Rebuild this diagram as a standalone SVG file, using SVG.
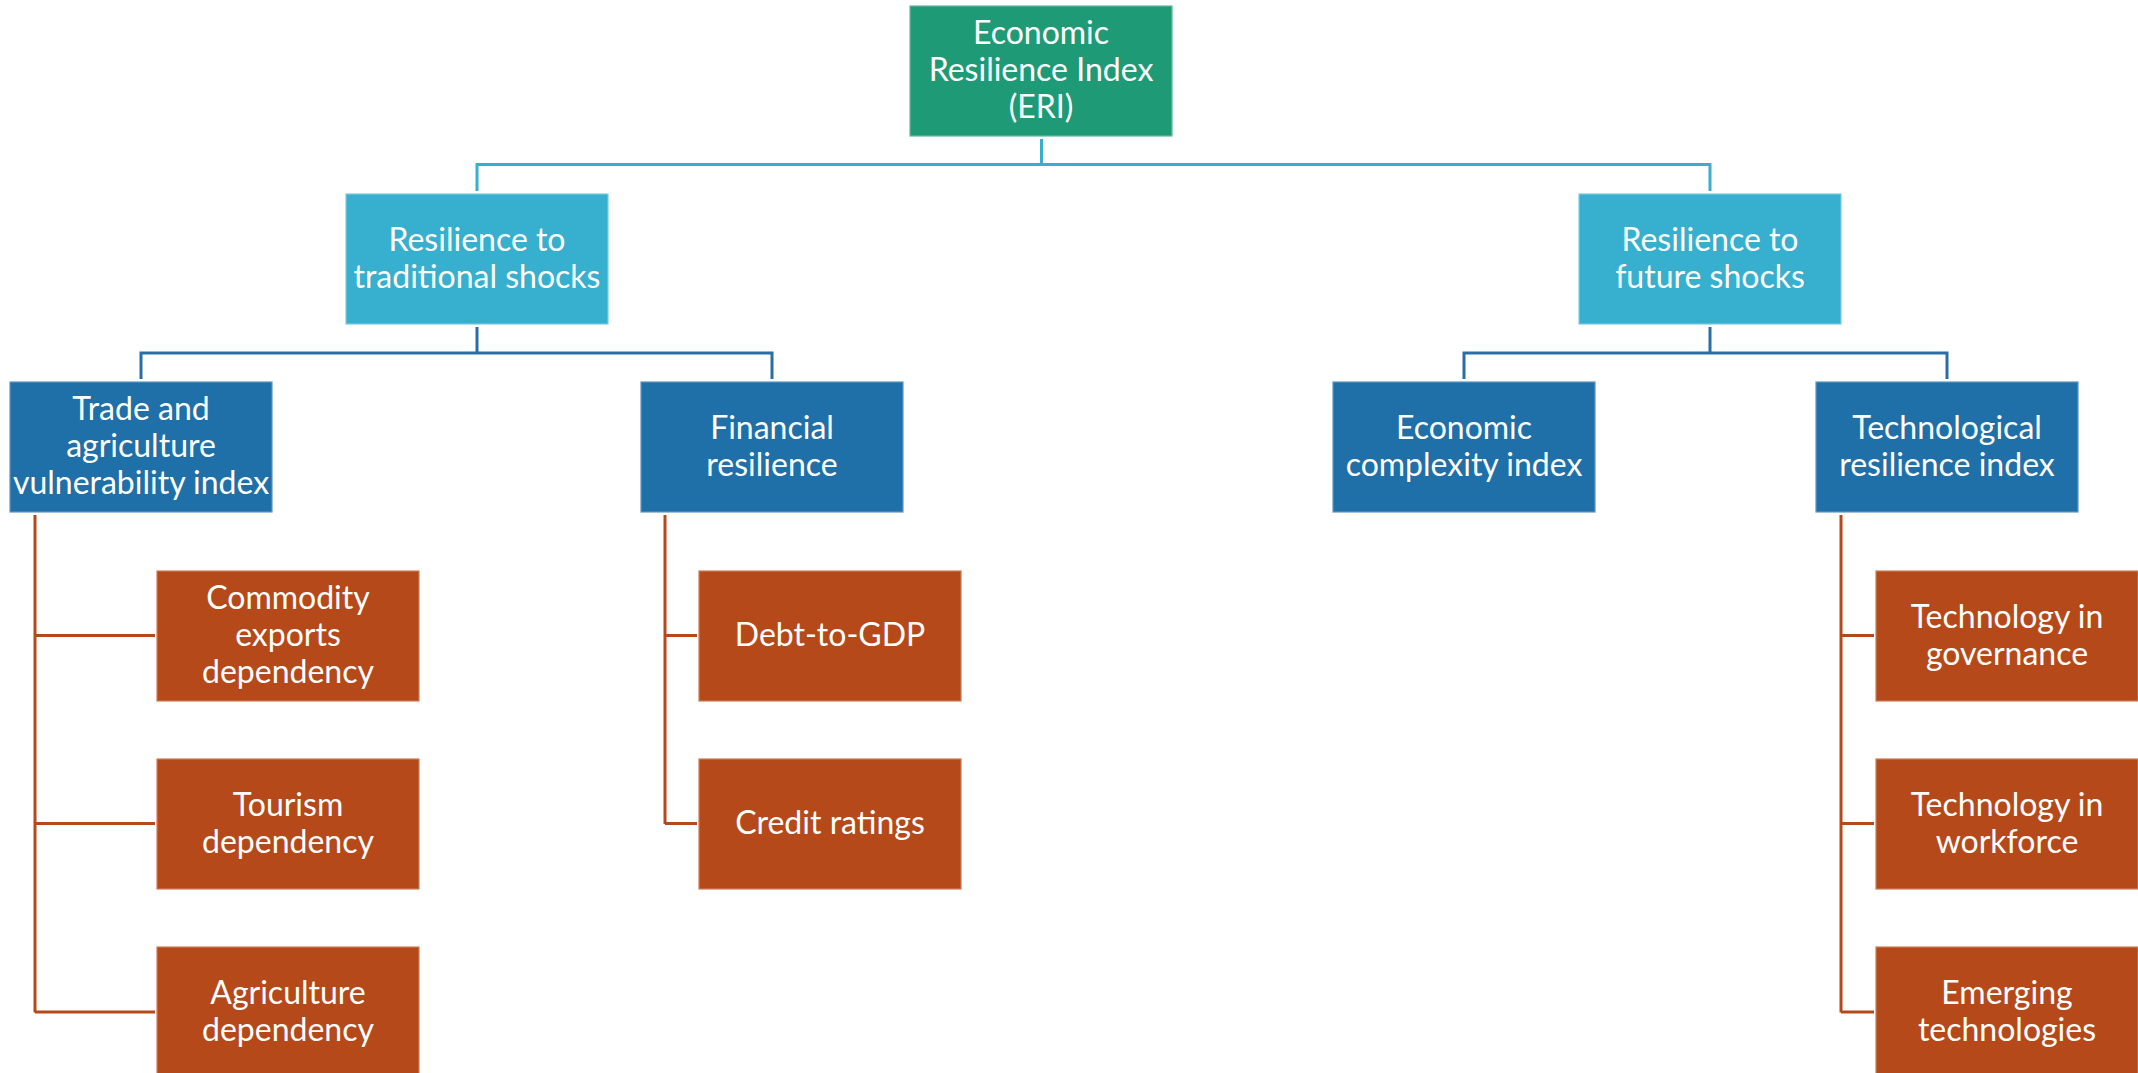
<svg xmlns="http://www.w3.org/2000/svg" width="2138" height="1073" viewBox="0 0 2138 1073">
<style>
  .box { stroke-width: 1.2; }
  .g0 { fill: #1E9B76; stroke: #5FB99E; }
  .g1 { fill: #37AFCF; stroke: #7CCBE0; }
  .g2 { fill: #1F6FA9; stroke: #5E97C2; }
  .g3 { fill: #B5491A; stroke: #CC7D5A; }
  .t { font-family: Lato, "Open Sans", "Liberation Sans", sans-serif; font-size: 32px; fill: #FFFFFF; text-anchor: middle; }
  .c1 { stroke: #39AFD0; stroke-width: 3; fill: none; }
  .c2 { stroke: #2A6EA6; stroke-width: 3; fill: none; }
  .c3 { stroke: #B5491A; stroke-width: 3; fill: none; }
</style>
<rect width="2138" height="1073" fill="#FFFFFF"/>
<g id="connectors">
  <path class="c1" d="M1041.5,139 V164.5 M477,191 V164.5 H1710 V191"/>
  <path class="c2" d="M477,327 V353 M141,379 V353 H772 V379"/>
  <path class="c2" d="M1710,327 V353 M1464,379 V353 H1947 V379"/>
  <path class="c3" d="M35,515 V1012.5 M35,635.5 H155 M35,823.5 H155 M35,1012 H155"/>
  <path class="c3" d="M665,515 V824 M665,635.5 H697 M665,823.5 H697"/>
  <path class="c3" d="M1841,515 V1012.5 M1841,635.5 H1874 M1841,823.5 H1874 M1841,1012 H1874"/>
</g>
<g id="eri">
  <rect class="box g0" x="910" y="6" width="262" height="130"/>
  <text class="t" x="1041" y="43.5">Economic</text>
  <text class="t" x="1041" y="81">Resilience Index</text>
  <text class="t" x="1041" y="118">(ERI)</text>
</g>
<g id="traditional">
  <rect class="box g1" x="346" y="194" width="262" height="130"/>
  <text class="t" x="477" y="250.5">Resilience to</text>
  <text class="t" x="477" y="287.5">traditional shocks</text>
</g>
<g id="future">
  <rect class="box g1" x="1579" y="194" width="262" height="130"/>
  <text class="t" x="1710" y="250.5">Resilience to</text>
  <text class="t" x="1710" y="287.5">future shocks</text>
</g>
<g id="trade">
  <rect class="box g2" x="10" y="382" width="262" height="130"/>
  <text class="t" x="141" y="419.5">Trade and</text>
  <text class="t" x="141" y="456.5">agriculture</text>
  <text class="t" x="141" y="493.5">vulnerability index</text>
</g>
<g id="financial">
  <rect class="box g2" x="641" y="382" width="262" height="130"/>
  <text class="t" x="772" y="438.5">Financial</text>
  <text class="t" x="772" y="475.5">resilience</text>
</g>
<g id="complexity">
  <rect class="box g2" x="1333" y="382" width="262" height="130"/>
  <text class="t" x="1464" y="438.5">Economic</text>
  <text class="t" x="1464" y="475.5">complexity index</text>
</g>
<g id="technological">
  <rect class="box g2" x="1816" y="382" width="262" height="130"/>
  <text class="t" x="1947" y="438.5">Technological</text>
  <text class="t" x="1947" y="475.5">resilience index</text>
</g>
<g id="commodity">
  <rect class="box g3" x="157" y="571" width="262" height="130"/>
  <text class="t" x="288" y="608.5">Commodity</text>
  <text class="t" x="288" y="645.5">exports</text>
  <text class="t" x="288" y="682.5">dependency</text>
</g>
<g id="tourism">
  <rect class="box g3" x="157" y="759" width="262" height="130"/>
  <text class="t" x="288" y="815.5">Tourism</text>
  <text class="t" x="288" y="852.5">dependency</text>
</g>
<g id="agriculture">
  <rect class="box g3" x="157" y="947" width="262" height="130"/>
  <text class="t" x="288" y="1003.5">Agriculture</text>
  <text class="t" x="288" y="1040.5">dependency</text>
</g>
<g id="debt">
  <rect class="box g3" x="699" y="571" width="262" height="130"/>
  <text class="t" x="830" y="646">Debt-to-GDP</text>
</g>
<g id="credit">
  <rect class="box g3" x="699" y="759" width="262" height="130"/>
  <text class="t" x="830" y="834">Credit ratings</text>
</g>
<g id="governance">
  <rect class="box g3" x="1876" y="571" width="262" height="130"/>
  <text class="t" x="2007" y="627.5">Technology in</text>
  <text class="t" x="2007" y="664.5">governance</text>
</g>
<g id="workforce">
  <rect class="box g3" x="1876" y="759" width="262" height="130"/>
  <text class="t" x="2007" y="815.5">Technology in</text>
  <text class="t" x="2007" y="852.5">workforce</text>
</g>
<g id="emerging">
  <rect class="box g3" x="1876" y="947" width="262" height="130"/>
  <text class="t" x="2007" y="1003.5">Emerging</text>
  <text class="t" x="2007" y="1040.5">technologies</text>
</g>
</svg>
